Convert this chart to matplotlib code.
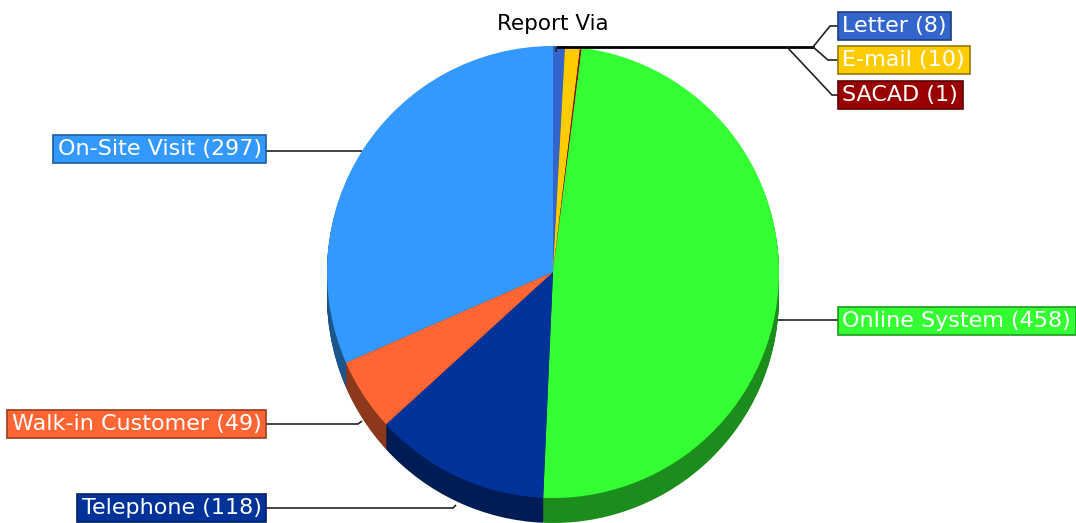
import matplotlib
matplotlib.use("Agg")
import matplotlib.pyplot as plt
from matplotlib.colors import to_rgb

# ---- data ----
categories = ["Letter", "E-mail", "SACAD", "Online System", "Telephone",
              "Walk-in Customer", "On-Site Visit"]
values = [8, 10, 1, 458, 118, 49, 297]
colors = ["#3366CC", "#FFCC00", "#990000", "#33FF33", "#003399",
          "#FF6633", "#3399FF"]
title = "Report Via"

W, H = 1076, 523
fig = plt.figure(figsize=(W / 100, H / 100), dpi=100)
ax = fig.add_axes([0, 0, 1, 1])


def Y(py):
    return H - py


cx, cy, r = 553, 272, 226
depth = 25


def darker(c, f=0.55):
    rr, gg, bb = to_rgb(c)
    return (rr * f, gg * f, bb * f)


side_colors = [darker(c) for c in colors]
for d in range(depth, 0, -1):
    ax.pie(values, colors=side_colors, startangle=90, counterclock=False,
           center=(cx, Y(cy + d)), radius=r, frame=True,
           wedgeprops=dict(linewidth=0, antialiased=True))
ax.pie(values, colors=colors, startangle=90, counterclock=False,
       center=(cx, Y(cy)), radius=r, frame=True,
       wedgeprops=dict(linewidth=0, antialiased=True))

ax.set_aspect("auto")
ax.set_xlim(0, W)
ax.set_ylim(0, H)
ax.axis("off")

ax.text(cx, Y(24), title, ha="center", va="center", fontsize=15.5,
        family="DejaVu Sans", color="black")

# ---- labels (layout) ----
lab_fs = 16
lab = {
    # name: (side, box edge x, y center)
    "Letter": ("R", 838, 26),
    "E-mail": ("R", 838, 60),
    "SACAD": ("R", 838, 95),
    "Online System": ("R", 838, 321),
    "On-Site Visit": ("L", 266, 149),
    "Walk-in Customer": ("L", 266, 424),
    "Telephone": ("L", 266, 508),
}
for name, v, c in zip(categories, values, colors):
    side, ex, ey = lab[name]
    txt = f"{name} ({v})"
    if side == "R":
        x, ha = ex + 4.5, "left"
    else:
        x, ha = ex - 4.5, "right"
    ax.text(x, Y(ey), txt, ha=ha, va="center", fontsize=lab_fs,
            color="white", family="DejaVu Sans",
            bbox=dict(boxstyle="square,pad=0.2", fc=c,
                      ec=darker(c, 0.6), lw=1.2))

lk = dict(color="#222222", lw=1.2, solid_capstyle="butt")
# leader lines
ax.plot([266, 362], [Y(151), Y(151)], **lk)
ax.plot([266, 358, 362], [Y(424), Y(424), Y(421)], **lk)
ax.plot([266, 453, 456], [Y(508), Y(508), Y(505)], **lk)
ax.plot([778, 838], [Y(320), Y(320)], **lk)
# top three
ax.plot([558, 813], [Y(47), Y(47)], color="black", lw=2)
ax.plot([556, 556], [Y(47), Y(52)], **lk)
ax.plot([813, 830, 838], [Y(47), Y(26), Y(26)], **lk)
ax.plot([813, 828, 838], [Y(47), Y(60), Y(60)], **lk)
ax.plot([787, 832, 838], [Y(47), Y(95), Y(95)], **lk)

fig.savefig("out.png", dpi=100, facecolor="white")
